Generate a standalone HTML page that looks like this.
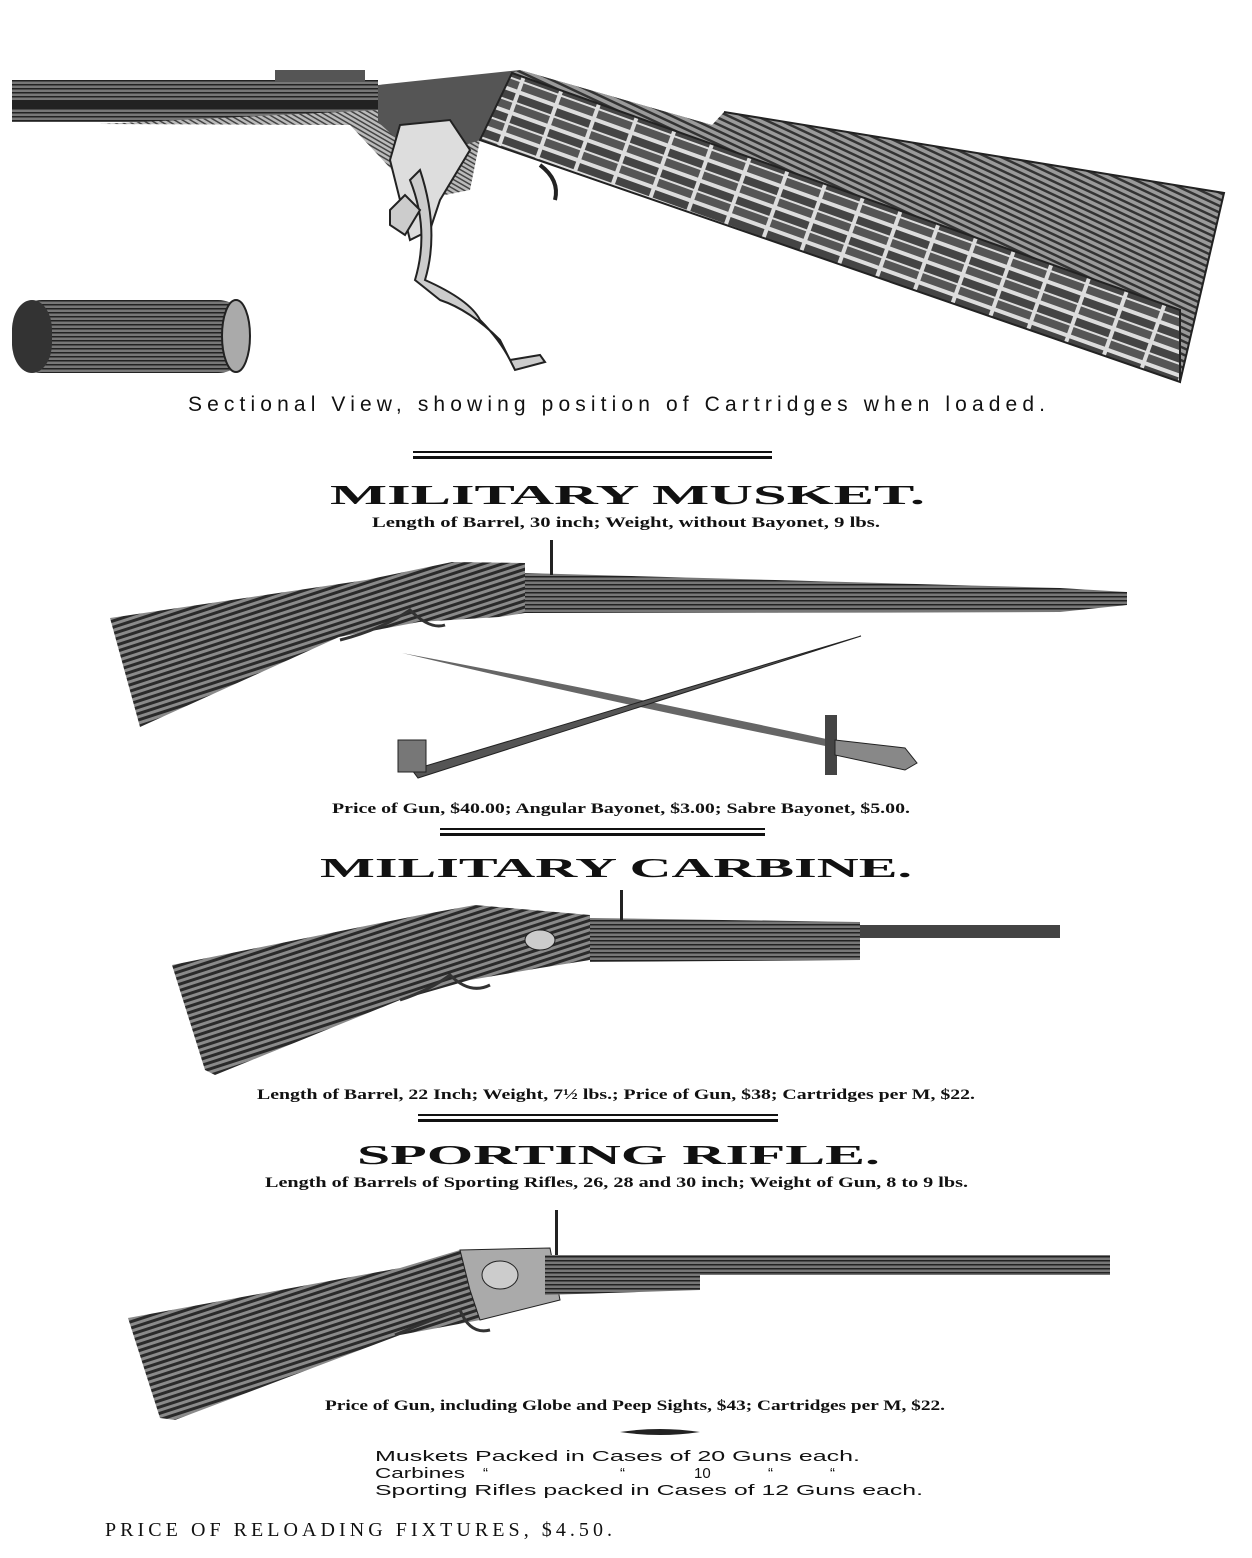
<!DOCTYPE html>
<html><head><meta charset="utf-8"><style>html,body{margin:0;padding:0;background:#fff}svg{display:block}</style></head>
<body>
<svg width="1252" height="1558" viewBox="0 0 1252 1558" xmlns="http://www.w3.org/2000/svg">
<defs>
<pattern id="wood" width="8" height="6" patternUnits="userSpaceOnUse" patternTransform="rotate(-18)">
<rect width="8" height="6" fill="#8a8a8a"/><rect width="8" height="3" fill="#2a2a2a"/></pattern>
<pattern id="wood2" width="8" height="6" patternUnits="userSpaceOnUse" patternTransform="rotate(25)">
<rect width="8" height="6" fill="#9a9a9a"/><rect width="8" height="2.5" fill="#333"/></pattern>
<pattern id="hatch" width="4" height="4" patternUnits="userSpaceOnUse" patternTransform="rotate(30)">
<rect width="4" height="4" fill="#bbb"/><rect width="4" height="1.5" fill="#444"/></pattern>
<pattern id="barrel" width="6" height="4" patternUnits="userSpaceOnUse">
<rect width="6" height="4" fill="#777"/><rect width="6" height="1.5" fill="#222"/></pattern>
<pattern id="cart" width="40" height="22" patternUnits="userSpaceOnUse" patternTransform="rotate(19.7)">
<rect width="40" height="22" fill="#ddd"/><rect x="1" y="2" width="36" height="8" fill="#444"/><rect x="1" y="12" width="36" height="8" fill="#555"/></pattern>
</defs>
<g font-family="Liberation Sans, sans-serif">

<!-- TOP SECTIONAL VIEW -->
<rect x="12" y="80" width="366" height="42" fill="url(#barrel)"/>
<rect x="12" y="100" width="366" height="8" fill="#222"/>
<rect x="275" y="70" width="90" height="12" fill="#555"/>
<polygon points="100,124 380,110 480,140 470,190 420,200 350,125" fill="url(#hatch)"/>
<polygon points="378,85 520,70 712,125 724,148 512,73 480,140 420,160 378,122" fill="#555"/>
<polygon points="520,70 712,125 724,112 1224,193 1180,382 1180,310 724,148 512,73" fill="url(#wood2)"/>
<polyline points="724,112 1224,193 1180,382" fill="none" stroke="#222" stroke-width="2"/>
<polygon points="512,73 1180,310 1180,382 480,140" fill="url(#cart)" stroke="#222" stroke-width="2"/>
<polygon points="400,125 450,120 470,150 440,200 430,230 410,240 400,200 390,160" fill="#ddd" stroke="#222" stroke-width="2"/>
<path d="M420,170 Q440,230 425,280 Q470,300 480,320 Q500,340 510,360 L540,355 L545,362 L515,370 L500,340 Q470,310 440,300 L415,280 Q430,230 410,180Z" fill="#ccc" stroke="#222" stroke-width="2"/>
<path d="M390,210 L405,195 L420,210 L405,235 L390,225Z" fill="#ccc" stroke="#222" stroke-width="2"/>
<path d="M540,165 Q560,180 555,200" fill="none" stroke="#222" stroke-width="4"/>
<rect x="12" y="300" width="236" height="73" rx="30" fill="url(#barrel)"/>
<rect x="12" y="300" width="40" height="73" rx="30" fill="#333"/>
<ellipse cx="236" cy="336" rx="14" ry="36" fill="#aaa" stroke="#222" stroke-width="2"/>
<text x="188" y="411" font-size="21" textLength="857" lengthAdjust="spacing" fill="#111">Sectional View, showing position of Cartridges when loaded.</text>

<rect x="413" y="451" width="359" height="2" fill="#111"/>
<rect x="413" y="456" width="359" height="3" fill="#111"/>

<!-- MUSKET -->
<g font-family="Liberation Serif, serif" font-weight="bold" fill="#111">
<text x="330" y="504" font-size="27" textLength="595" lengthAdjust="spacingAndGlyphs">MILITARY MUSKET.</text>
<text x="372" y="527" font-size="15" textLength="508" lengthAdjust="spacingAndGlyphs">Length of Barrel, 30 inch; Weight, without Bayonet, 9 lbs.</text>
</g>
<polygon points="110,618 366,580 452,562 525,563 525,613 499,617 419,622 339,637 140,727" fill="url(#wood)"/>
<polygon points="525,573 1060,588 1127,592 1127,605 1060,612 525,613" fill="url(#barrel)"/>
<rect x="550" y="540" width="3" height="35" fill="#222"/>
<path d="M340,640 Q380,630 410,610 Q430,630 445,625" fill="none" stroke="#333" stroke-width="3"/>
<path d="M402,653 Q600,690 831,740 L835,748 Q600,700 402,653Z" fill="#666"/>
<rect x="825" y="715" width="12" height="60" fill="#444"/>
<path d="M835,740 L905,748 L917,763 L905,770 L835,755Z" fill="#888" stroke="#222"/>
<path d="M861,636 L412,770 L418,778 Z" fill="#555" stroke="#222"/>
<rect x="398" y="740" width="28" height="32" fill="#777" stroke="#222"/>

<g font-family="Liberation Serif, serif" font-weight="bold" fill="#111">
<text x="332" y="813" font-size="15" textLength="578" lengthAdjust="spacingAndGlyphs">Price of Gun, $40.00; Angular Bayonet, $3.00; Sabre Bayonet, $5.00.</text>
<rect x="440" y="828" width="325" height="2" fill="#111"/>
<rect x="440" y="833" width="325" height="3" fill="#111"/>
<text x="320" y="877" font-size="27" textLength="592" lengthAdjust="spacingAndGlyphs">MILITARY CARBINE.</text>
</g>

<!-- CARBINE -->
<polygon points="172,965 420,915 475,905 590,915 590,960 540,968 470,980 400,1000 215,1075 205,1070" fill="url(#wood)"/>
<polygon points="590,918 860,922 860,960 590,962" fill="url(#barrel)"/>
<rect x="860" y="925" width="200" height="13" fill="#444"/>
<rect x="620" y="890" width="3" height="30" fill="#222"/>
<path d="M400,1000 Q430,990 450,975 Q470,995 490,985" fill="none" stroke="#333" stroke-width="3"/>
<ellipse cx="540" cy="940" rx="15" ry="10" fill="#ccc" stroke="#222"/>

<g font-family="Liberation Serif, serif" font-weight="bold" fill="#111">
<text x="257" y="1099" font-size="15" textLength="718" lengthAdjust="spacingAndGlyphs">Length of Barrel, 22 Inch; Weight, 7½ lbs.; Price of Gun, $38; Cartridges per M, $22.</text>
<rect x="418" y="1114" width="360" height="2" fill="#111"/>
<rect x="418" y="1119" width="360" height="3" fill="#111"/>
<text x="357" y="1164" font-size="27" textLength="523" lengthAdjust="spacingAndGlyphs">SPORTING RIFLE.</text>
<text x="265" y="1187" font-size="15" textLength="703" lengthAdjust="spacingAndGlyphs">Length of Barrels of Sporting Rifles, 26, 28 and 30 inch; Weight of Gun, 8 to 9 lbs.</text>
</g>

<!-- SPORTING -->
<polygon points="128,1318 400,1268 460,1250 550,1248 550,1300 480,1320 400,1335 175,1420 160,1418" fill="url(#wood)"/>
<polygon points="460,1250 550,1248 560,1300 480,1320 470,1290" fill="#aaa" stroke="#222"/>
<polygon points="545,1255 700,1260 700,1290 545,1295" fill="url(#barrel)"/>
<rect x="545" y="1255" width="565" height="20" fill="url(#barrel)"/>
<rect x="555" y="1210" width="3" height="45" fill="#222"/>
<ellipse cx="500" cy="1275" rx="18" ry="14" fill="#ccc" stroke="#222"/>
<path d="M395,1335 Q430,1320 460,1310 Q470,1335 490,1330" fill="none" stroke="#333" stroke-width="3"/>

<g font-family="Liberation Serif, serif" font-weight="bold" fill="#111">
<text x="325" y="1410" font-size="15" textLength="620" lengthAdjust="spacingAndGlyphs">Price of Gun, including Globe and Peep Sights, $43; Cartridges per M, $22.</text>
</g>
<path d="M620,1432 Q660,1426 700,1432 Q660,1438 620,1432Z" fill="#222"/>
<g font-family="Liberation Sans, sans-serif" fill="#111" font-size="15">
<text x="375" y="1461" textLength="485" lengthAdjust="spacingAndGlyphs">Muskets Packed in Cases of 20 Guns each.</text>
<text x="375" y="1478" textLength="90" lengthAdjust="spacingAndGlyphs">Carbines</text>
<text x="483" y="1478">“</text><text x="620" y="1478">“</text><text x="694" y="1478">10</text><text x="768" y="1478">“</text><text x="830" y="1478">“</text>
<text x="375" y="1495" textLength="548" lengthAdjust="spacingAndGlyphs">Sporting Rifles packed in Cases of 12 Guns each.</text>
</g>
<text x="105" y="1536" font-family="Liberation Serif, serif" font-size="20" fill="#111" textLength="507" lengthAdjust="spacing">PRICE OF RELOADING FIXTURES, $4.50.</text>
</g>
</svg>
</body></html>
